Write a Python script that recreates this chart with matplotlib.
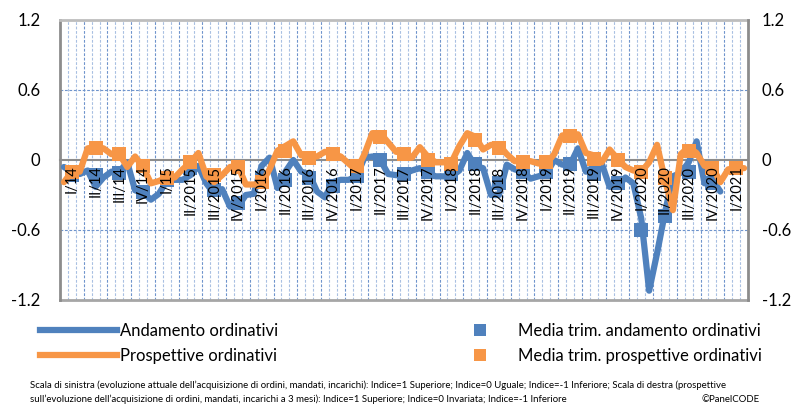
import numpy as np
import matplotlib
matplotlib.use('Agg')
import matplotlib.pyplot as plt
from matplotlib.lines import Line2D

plt.rcParams['font.family'] = ['Lato', 'DejaVu Sans']

# x axis: one category per month, Jan 2014 .. Mar 2021, labels on the middle month of each quarter
quarter_labels = ['I/14', 'II/14', 'III/14', 'IV/14', 'I/15', 'II/2015', 'III/2015', 'IV/2015',
                  'I/2016', 'II/2016', 'III/2016', 'IV/2016', 'I/2017', 'II/2017', 'III/2017', 'IV/2017',
                  'I/2018', 'II/2018', 'III/2018', 'IV/2018', 'I/2019', 'II/2019', 'III/2019', 'IV/2019',
                  'I/2020', 'II/2020', 'III/2020', 'IV/2020', 'I/2021']
n_months = 87

# monthly series (left / right scale)
andamento = [-0.06, -0.10, -0.12, -0.09, -0.23, -0.15, -0.10, -0.10, -0.02, -0.26, -0.28, -0.34,
             -0.29, -0.18, -0.17, -0.17, -0.13, -0.05, -0.20, -0.29, -0.25, -0.40, -0.40, -0.30,
             -0.29, -0.05, 0.02, -0.24, -0.10, 0.00, -0.10, -0.12, -0.27, -0.32, -0.19, -0.17,
             -0.17, -0.14, 0.02, 0.03, 0.00, -0.12, -0.13, -0.12, -0.09, -0.07, -0.11, -0.14,
             -0.14, -0.14, -0.09, 0.06, -0.05, -0.07, -0.30, -0.30, -0.04, -0.08, -0.10, -0.16,
             -0.14, -0.12, 0.00, -0.04, -0.04, 0.10, -0.10, -0.06, -0.03, -0.23, -0.23, -0.15,
             -0.20, -0.50, -1.12, -0.80, -0.45, -0.14, -0.11, -0.02, 0.16, -0.20, -0.17, -0.27]
prospettive = [-0.19, -0.10, -0.10, 0.10, 0.11, 0.10, 0.05, 0.05, -0.06, 0.03, -0.06, -0.20,
               -0.18, -0.15, -0.15, -0.08, -0.02, 0.06, -0.14, -0.19, -0.13, -0.06, -0.05, -0.21,
               -0.21, -0.20, -0.08, 0.08, 0.12, 0.16, 0.04, 0.03, 0.03, 0.07, 0.05, 0.03,
               -0.03, -0.09, 0.05, 0.23, 0.23, 0.15, 0.07, 0.07, 0.02, 0.11, 0.03, -0.02,
               -0.02, -0.02, 0.12, 0.23, 0.20, 0.09, 0.13, 0.13, 0.05, -0.01, -0.01, -0.01,
               -0.03, -0.03, 0.05, 0.21, 0.22, 0.22, 0.06, 0.04, -0.02, 0.09, 0.01, -0.06,
               -0.09, -0.10, -0.02, 0.13, -0.17, -0.43, 0.05, 0.11, 0.06, -0.05, -0.06, -0.19,
               -0.08, -0.07, -0.07]

# quarterly averages, shown on the middle month of each quarter
media_andamento = [-0.13, -0.13, -0.11, -0.27, -0.17, -0.07, -0.26, -0.37, -0.15, -0.17,
                   -0.15, -0.22, -0.14, 0.00, -0.12, -0.10, -0.12, -0.03, -0.20, -0.10,
                   -0.10, -0.03, -0.12, -0.20, -0.60, -0.48, -0.10, -0.20]
media_prospettive = [-0.10, 0.10, 0.05, -0.05, -0.15, -0.02, -0.13, -0.06, -0.19, 0.08,
                     0.02, 0.05, -0.05, 0.20, 0.05, 0.00, -0.03, 0.17, 0.10, -0.02,
                     -0.02, 0.21, 0.01, 0.00, -0.10, -0.15, 0.08, -0.07, -0.07]

footnote_1 = ('Scala di sinistra (evoluzione attuale dell\u2019acquisizione di ordini, mandati, incarichi): '
              'Indice=1 Superiore; Indice=0 Uguale; Indice=-1 Inferiore; Scala di destra (prospettive')
footnote_2 = ('sull\u2019evoluzione dell\u2019acquisizione di ordini, mandati, incarichi a 3 mesi): '
              'Indice=1 Superiore; Indice=0 Invariata; Indice=-1 Inferiore')

blue = '#4F81BD'
orange = '#F79646'
grid_minor = '#A9C0E2'
grid_major = '#6F94CC'
axis_grey = '#8C8C8C'

fig = plt.figure(figsize=(7.96, 4.04), dpi=100)
ax = fig.add_axes([60 / 796, 1 - 300 / 404, 688 / 796, 280 / 404])

# vertical gridlines at month boundaries, darker every quarter
for k in range(1, n_months):
    if k % 3 == 0:
        ax.axvline(k - 0.5, color=grid_major, lw=0.8, ls=(0, (2.5, 1.5)), zorder=0)
    else:
        ax.axvline(k - 0.5, color=grid_minor, lw=0.8, ls=(0, (2.5, 1.5)), zorder=0)
for yv in [0.6, -0.6]:
    ax.axhline(yv, color=grid_major, lw=0.8, ls=(0, (2.5, 1.5)), zorder=0)
ax.axhline(-1.2, color='#A6A6A6', lw=2, zorder=1, clip_on=False)

x_and = np.arange(len(andamento))
x_pro = np.arange(len(prospettive))
xq_and = np.arange(len(media_andamento)) * 3 + 1
xq_pro = np.arange(len(media_prospettive)) * 3 + 1

ax.plot(x_and, andamento, color=blue, lw=4.5, solid_joinstyle='round', solid_capstyle='round', zorder=3)
ax.plot(xq_and, media_andamento, ls='none', marker='s', ms=9.5, mew=0, color=blue, zorder=4)
ax.plot(x_pro, prospettive, color=orange, lw=4.5, solid_joinstyle='round', solid_capstyle='round', zorder=5)
ax.plot(xq_pro, media_prospettive, ls='none', marker='s', ms=9.5, mew=0, color=orange, zorder=6)

ax.set_xlim(-0.5, n_months - 0.5)
ax.set_ylim(-1.2, 1.2)
ax.set_yticks([1.2, 0.6, 0, -0.6, -1.2])
ax.set_yticklabels(['1.2', '0.6', '0', '-0.6', '-1.2'])
ax.set_xticks(np.arange(len(quarter_labels)) * 3 + 1)
ax.set_xticklabels(quarter_labels)

ax.spines['bottom'].set_position(('data', 0))
ax.spines['bottom'].set_color(axis_grey)
ax.spines['bottom'].set_linewidth(1.5)
ax.spines['bottom'].set_zorder(2)
ax.spines['left'].set_color(axis_grey)
ax.spines['left'].set_linewidth(2)
ax.spines['top'].set_color('#BDBDBD')
ax.spines['top'].set_linewidth(2)
ax.spines['right'].set_visible(False)
# category labels sit on top of the lines, as in the original
ax.xaxis.set_zorder(10)

ax2 = ax.twinx()
ax2.set_ylim(-1.2, 1.2)
ax2.set_yticks([1.2, 0.6, 0, -0.6, -1.2])
ax2.set_yticklabels(['1.2', '0.6', '0', '-0.6', '-1.2'])
ax2.tick_params(axis='y', length=0, pad=10, labelsize=12)
for s in ['top', 'bottom', 'left']:
    ax2.spines[s].set_visible(False)
ax2.spines['right'].set_color(axis_grey)
ax2.spines['right'].set_linewidth(2)

ax.tick_params(axis='x', length=0, pad=4, labelrotation=90, labelsize=10.5)
ax.tick_params(axis='y', length=0, pad=14, labelsize=12)

line_handles = [Line2D([], [], color=blue, lw=4.5), Line2D([], [], color=orange, lw=4.5)]
square_handles = [Line2D([], [], ls='none', marker='s', ms=8, mew=0, color=blue),
                  Line2D([], [], ls='none', marker='s', ms=8, mew=0, color=orange)]
fig.legend(line_handles, ['Andamento ordinativi', 'Prospettive ordinativi'],
           loc='upper left', bbox_to_anchor=(40 / 796, 1 - 323 / 404),
           frameon=False, fontsize=12, handlelength=4.6, handletextpad=0.2,
           labelspacing=0.55, borderpad=0, borderaxespad=0)
fig.legend(square_handles, ['Media trim. andamento ordinativi', 'Media trim. prospettive ordinativi'],
           loc='upper left', bbox_to_anchor=(445 / 796, 1 - 323 / 404),
           frameon=False, fontsize=12, handlelength=4.2, handletextpad=0.2,
           labelspacing=0.55, borderpad=0, borderaxespad=0)

fig.text(30 / 796, 1 - 388 / 404, footnote_1, fontsize=6.9, va='baseline')
fig.text(30 / 796, 1 - 402 / 404, footnote_2, fontsize=6.9, va='baseline')
fig.text(760 / 796, 1 - 402 / 404, '\u00a9PanelCODE', fontsize=6.9, va='baseline', ha='right')

fig.savefig('out.png', dpi=100)
